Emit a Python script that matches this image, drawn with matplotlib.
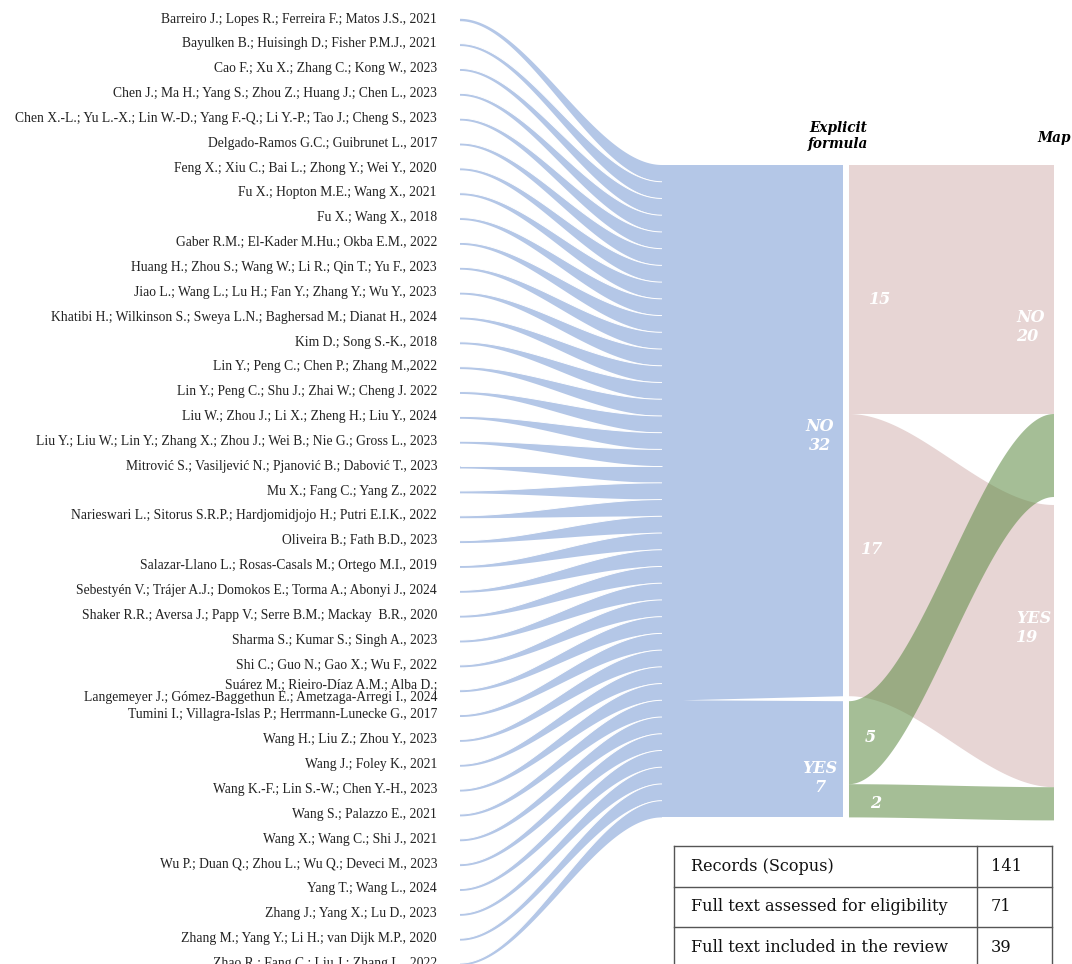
""" Sankey de articulos: formula explicita -> mapa """

import numpy as np
import matplotlib.pyplot as plt
from matplotlib.patches import Polygon

papers = [
  "Barreiro J.; Lopes R.; Ferreira F.; Matos J.S., 2021",
  "Bayulken B.; Huisingh D.; Fisher P.M.J., 2021",
  "Cao F.; Xu X.; Zhang C.; Kong W., 2023",
  "Chen J.; Ma H.; Yang S.; Zhou Z.; Huang J.; Chen L., 2023",
  "Chen X.-L.; Yu L.-X.; Lin W.-D.; Yang F.-Q.; Li Y.-P.; Tao J.; Cheng S., 2023",
  "Delgado-Ramos G.C.; Guibrunet L., 2017",
  "Feng X.; Xiu C.; Bai L.; Zhong Y.; Wei Y., 2020",
  "Fu X.; Hopton M.E.; Wang X., 2021",
  "Fu X.; Wang X., 2018",
  "Gaber R.M.; El-Kader M.Hu.; Okba E.M., 2022",
  "Huang H.; Zhou S.; Wang W.; Li R.; Qin T.; Yu F., 2023",
  "Jiao L.; Wang L.; Lu H.; Fan Y.; Zhang Y.; Wu Y., 2023",
  "Khatibi H.; Wilkinson S.; Sweya L.N.; Baghersad M.; Dianat H., 2024",
  "Kim D.; Song S.-K., 2018",
  "Lin Y.; Peng C.; Chen P.; Zhang M.,2022",
  "Lin Y.; Peng C.; Shu J.; Zhai W.; Cheng J. 2022",
  "Liu W.; Zhou J.; Li X.; Zheng H.; Liu Y., 2024",
  "Liu Y.; Liu W.; Lin Y.; Zhang X.; Zhou J.; Wei B.; Nie G.; Gross L., 2023",
  "Mitrović S.; Vasiljević N.; Pjanović B.; Dabović T., 2023",
  "Mu X.; Fang C.; Yang Z., 2022",
  "Narieswari L.; Sitorus S.R.P.; Hardjomidjojo H.; Putri E.I.K., 2022",
  "Oliveira B.; Fath B.D., 2023",
  "Salazar-Llano L.; Rosas-Casals M.; Ortego M.I., 2019",
  "Sebestyén V.; Trájer A.J.; Domokos E.; Torma A.; Abonyi J., 2024",
  "Shaker R.R.; Aversa J.; Papp V.; Serre B.M.; Mackay  B.R., 2020",
  "Sharma S.; Kumar S.; Singh A., 2023",
  "Shi C.; Guo N.; Gao X.; Wu F., 2022",
  "Suárez M.; Rieiro-Díaz A.M.; Alba D.;\nLangemeyer J.; Gómez-Baggethun E.; Ametzaga-Arregi I., 2024",
  "Tumini I.; Villagra-Islas P.; Herrmann-Lunecke G., 2017",
  "Wang H.; Liu Z.; Zhou Y., 2023",
  "Wang J.; Foley K., 2021",
  "Wang K.-F.; Lin S.-W.; Chen Y.-H., 2023",
  "Wang S.; Palazzo E., 2021",
  "Wang X.; Wang C.; Shi J., 2021",
  "Wu P.; Duan Q.; Zhou L.; Wu Q.; Deveci M., 2023",
  "Yang T.; Wang L., 2024",
  "Zhang J.; Yang X.; Lu D., 2023",
  "Zhang M.; Yang Y.; Li H.; van Dijk M.P., 2020",
  "Zhao R.; Fang C.; Liu J.; Zhang L., 2022",
]

# explicit formula: los primeros 32 articulos son NO, los 7 ultimos YES
formula_labels = ["NO", "YES"]
formula_counts = [32, 7]

# flujos formula -> mapa
map_labels = ["NO", "YES"]
flow_src = ["NO", "NO", "YES", "YES"]
flow_dst = ["NO", "YES", "NO", "YES"]
flow_val = [15, 17, 5, 2]

table_rows = ["Records (Scopus)", "Full text assessed for eligibility",
              "Full text included in the review"]
table_vals = [141, 71, 39]

# colores
BLUE = "#B4C7E7"
PINK = "#E7D5D4"
GREEN = "#5B8A41"
SERIF = "Liberation Serif"

# geometria (pixeles)
W, H = 1072, 964
ROW0, ROW_STEP = 20, 24.85
X_LEFT, X_JOIN = 460, 662
BLK_X0, BLK_X1 = 660, 843
MAP_X0, MAP_X1 = 849, 1054
TOP = 165
U = 16.6
GAP_L, GAP_R = 5, 8


def smooth(t):
  return t * t * (3 - 2 * t)


def band(ax, x0, x1, t0, b0, t1, b1, color, alpha=1.0, sep=False):
  t = np.linspace(0, 1, 120)
  s = smooth(t)
  x = x0 + (x1 - x0) * t
  top = t0 + (t1 - t0) * s
  bot = b0 + (b1 - b0) * s
  pts = np.column_stack([np.r_[x, x[::-1]], np.r_[top, bot[::-1]]])
  ax.add_patch(Polygon(pts, closed=True, fc=color, ec="none", alpha=alpha, lw=0))
  if sep:
    ax.plot(x, top, color="white", lw=0.7, solid_capstyle="butt")


fig = plt.figure(figsize=(W / 100, H / 100), dpi=100)
ax = fig.add_axes([0, 0, 1, 1])
ax.set_xlim(0, W)
ax.set_ylim(H, 0)
ax.axis("off")

# nodos del mapa (lado izquierdo y derecho)
left_nodes = {}
y = TOP
for lab, n in zip(formula_labels, formula_counts):
  left_nodes[lab] = [y, y + n * U]
  y += n * U + GAP_L
right_tot = {lab: sum(v for d, v in zip(flow_dst, flow_val) if d == lab) for lab in map_labels}
right_nodes = {}
y = TOP
for lab in map_labels:
  right_nodes[lab] = [y, y + right_tot[lab] * U]
  y += right_tot[lab] * U + GAP_R

# cintas de los articulos hacia el bloque azul
blk_bot = left_nodes["YES"][1]
ub = (blk_bot - TOP) / len(papers)
for i, p in enumerate(papers):
  yl = ROW0 + i * ROW_STEP
  band(ax, X_LEFT, X_JOIN, yl - 1.2, yl + 1.2, TOP + i * ub, TOP + (i + 1) * ub,
       BLUE, sep=i > 0)
  two = "\n" in p
  ax.text(437, yl + (0.5 if two else -1), p, ha="right", va="center",
          fontsize=9.8, family=SERIF, color="#222222",
          multialignment="right", linespacing=1.0)

# bloque "Explicit formula"
ax.add_patch(Polygon([[BLK_X0, TOP], [BLK_X1, TOP], [BLK_X1, blk_bot], [BLK_X0, blk_bot]],
                     closed=True, fc=BLUE, ec="none"))
y_split = TOP + formula_counts[0] * ub
ax.add_patch(Polygon([[683, y_split], [BLK_X1 + 1, left_nodes["NO"][1]],
                      [BLK_X1 + 1, left_nodes["YES"][0]]], closed=True, fc="white", ec="none"))

# flujos formula -> mapa
pos_l = {k: v[0] for k, v in left_nodes.items()}
pos_r = {k: v[0] for k, v in right_nodes.items()}
flows = []
for s, d, v in zip(flow_src, flow_dst, flow_val):
  h = v * U
  flows.append((s, d, v, pos_l[s], pos_r[d]))
  pos_l[s] += h
  pos_r[d] += h
for s, d, v, yl, yr in sorted(flows, key=lambda f: f[0] == "YES"):
  col, a = (PINK, 1.0) if s == "NO" else (GREEN, 0.55)
  band(ax, MAP_X0, MAP_X1, yl, yl + v * U, yr, yr + v * U, col, alpha=a)

# textos
num_kw = dict(color="white", fontsize=11.5, family="DejaVu Serif",
              fontweight="bold", fontstyle="italic", va="center")
ax.text(820, 436, "NO\n32", ha="center", linespacing=1.1, **num_kw)
ax.text(820, 778, "YES\n7", ha="center", linespacing=1.1, **num_kw)
ax.text(880, 299, "15", ha="center", **num_kw)
ax.text(872, 550, "17", ha="center", **num_kw)
ax.text(870, 738, "5", ha="center", **num_kw)
ax.text(876, 803, "2", ha="center", **num_kw)
ax.text(1016, 327, "NO\n20", ha="left", linespacing=1.15, **num_kw)
ax.text(1016, 628, "YES\n19", ha="left", linespacing=1.15, **num_kw)

hdr_kw = dict(color="black", fontsize=9.8, family="DejaVu Serif",
              fontweight="bold", fontstyle="italic", va="center", ha="center")
ax.text(838, 136, "Explicit\nformula", linespacing=1.1, **hdr_kw)
ax.text(1054, 138, "Map", **hdr_kw)

# tabla
TX0, TXD, TX1, TY0, TH = 674, 977, 1052, 846, 40.5
for i, (r, v) in enumerate(zip(table_rows, table_vals)):
  y0 = TY0 + i * TH
  ax.plot([TX0, TX1], [y0, y0], color="#555555", lw=1)
  ax.text(691, y0 + TH / 2, r, ha="left", va="center", fontsize=11.6,
          family="DejaVu Serif", color="#111111")
  ax.text(991, y0 + TH / 2, str(v), ha="left", va="center", fontsize=11.6,
          family="DejaVu Serif", color="#111111")
for xv in (TX0, TXD, TX1):
  ax.plot([xv, xv], [TY0, H + 5], color="#555555", lw=1)

fig.savefig("out.png", dpi=100)
